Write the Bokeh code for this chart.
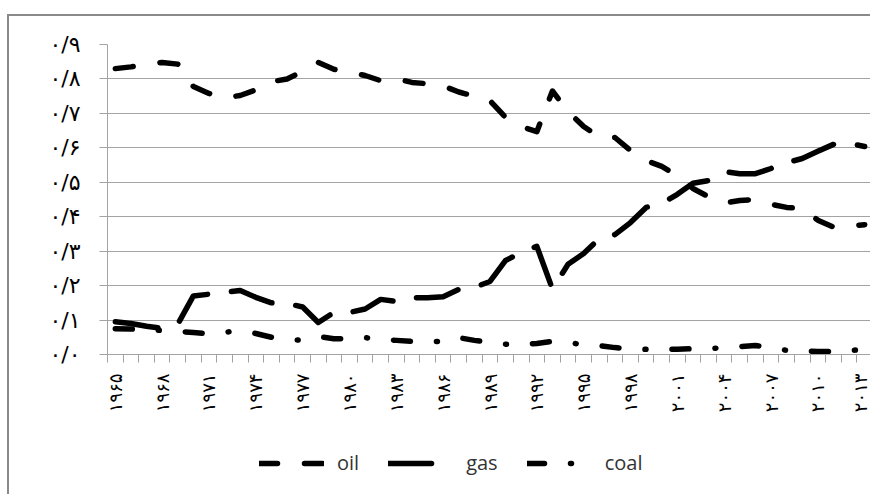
import math
from bokeh.plotting import figure
from bokeh.layouts import column
from bokeh.models import FixedTicker, Legend, LegendItem, Range1d
from bokeh.embed import file_html
from bokeh.resources import INLINE

years = list(range(1965, 2014))

oil = [0.830, 0.835, 0.842, 0.848, 0.843, 0.778, 0.758, 0.745, 0.752, 0.768,
       0.792, 0.800, 0.822, 0.848, 0.828, 0.820, 0.810, 0.795, 0.800, 0.790,
       0.786, 0.780, 0.762, 0.750, 0.737, 0.688, 0.662, 0.647, 0.765, 0.705,
       0.662, 0.632, 0.630, 0.592, 0.563, 0.546, 0.520, 0.482, 0.458, 0.440,
       0.447, 0.450, 0.436, 0.427, 0.424, 0.390, 0.370, 0.372, 0.377]

gas = [0.095, 0.090, 0.082, 0.076, 0.088, 0.170, 0.175, 0.180, 0.186, 0.166,
       0.150, 0.148, 0.138, 0.093, 0.122, 0.122, 0.132, 0.160, 0.154, 0.165,
       0.165, 0.168, 0.189, 0.195, 0.212, 0.273, 0.296, 0.314, 0.190, 0.262,
       0.293, 0.337, 0.348, 0.383, 0.427, 0.438, 0.465, 0.497, 0.505, 0.531,
       0.525, 0.525, 0.540, 0.557, 0.569, 0.590, 0.610, 0.613, 0.604]

coal = [0.075, 0.074, 0.072, 0.070, 0.067, 0.064, 0.060, 0.065, 0.068, 0.061,
        0.050, 0.044, 0.041, 0.052, 0.046, 0.046, 0.049, 0.044, 0.041, 0.038,
        0.038, 0.038, 0.049, 0.041, 0.035, 0.030, 0.030, 0.032, 0.038, 0.033,
        0.030, 0.026, 0.020, 0.017, 0.015, 0.015, 0.015, 0.017, 0.017, 0.020,
        0.023, 0.026, 0.020, 0.012, 0.010, 0.009, 0.009, 0.012, 0.014]

y_ticks = [0.0, 0.1, 0.2, 0.3, 0.4, 0.5, 0.6, 0.7, 0.8, 0.9]
y_tick_labels = ["۰/۰", "۰/۱", "۰/۲", "۰/۳", "۰/۴", "۰/۵", "۰/۶", "۰/۷", "۰/۸", "۰/۹"]

x_label_years = [1965, 1968, 1971, 1974, 1977, 1980, 1983, 1986, 1989, 1992,
                 1995, 1998, 2001, 2004, 2007, 2010, 2013]
x_tick_labels = ["۱۹۶۵", "۱۹۶۸", "۱۹۷۱", "۱۹۷۴", "۱۹۷۷", "۱۹۸۰", "۱۹۸۳", "۱۹۸۶", "۱۹۸۹",
                 "۱۹۹۲", "۱۹۹۵", "۱۹۹۸", "۲۰۰۱", "۲۰۰۴", "۲۰۰۷", "۲۰۱۰", "۲۰۱۳"]

series_names = ["oil", "gas", "coal"]
series_values = [oil, gas, coal]
dashes = ["18 27", "43 24", "17 26 1 26"]

GRID = "#a3a3a3"
BORDER = "2px solid #8a8a8a"

# main chart: canvas at (9, 16), 863 x 424, inside a grey chart border
p = figure(width=863, height=424, output_backend="svg", toolbar_location=None,
           x_range=Range1d(years[0] - 0.5, years[-1] + 0.5),
           y_range=Range1d(0, 0.9),
           min_border_left=98, min_border_right=0, min_border_top=28,
           min_border_bottom=86,
           margin=(14, 0, 0, 7),
           styles={"border-left": BORDER, "border-top": BORDER})
p.outline_line_color = None

p.xaxis.ticker = FixedTicker(ticks=x_label_years,
                             minor_ticks=[y - 0.5 for y in years] + [years[-1] + 0.5])
p.xaxis.major_label_overrides = {y: l for y, l in zip(x_label_years, x_tick_labels)}
p.xaxis.major_tick_out = 0
p.xaxis.major_tick_in = 0
p.xaxis.minor_tick_out = 8
p.xaxis.minor_tick_in = 0
p.xaxis.minor_tick_line_color = GRID
p.xaxis.axis_line_color = GRID
p.xaxis.major_label_orientation = math.pi / 2
p.xaxis.major_label_standoff = 11
p.xaxis.major_label_text_font = "DejaVu Sans"
p.xaxis.major_label_text_font_size = "18px"
p.xaxis.major_label_text_color = "black"

p.yaxis.ticker = FixedTicker(ticks=y_ticks, minor_ticks=[])
p.yaxis.major_label_overrides = {t: l for t, l in zip(y_ticks, y_tick_labels)}
p.yaxis.major_tick_out = 8
p.yaxis.major_tick_in = 0
p.yaxis.major_tick_line_color = GRID
p.yaxis.axis_line_color = GRID
p.yaxis.major_label_standoff = 19
p.yaxis.major_label_text_font = "DejaVu Sans"
p.yaxis.major_label_text_font_size = "22px"
p.yaxis.major_label_text_color = "black"

p.xgrid.visible = False
p.ygrid.ticker = FixedTicker(ticks=y_ticks)
p.ygrid.grid_line_color = GRID
p.ygrid.grid_line_width = 1

common = dict(line_color="black", line_width=5.5, line_cap="round", line_join="round")
for vals, dash in zip(series_values, dashes):
    p.line(years, vals, line_dash=dash, **common)

# legend strip below the chart (same border on the left); its lines carry the
# same series but lie outside its (empty) view, so only the legend keys show.
# The column aligns this strip's frame with the chart's frame.
lp = figure(width=863, height=56, output_backend="svg", toolbar_location=None,
            x_range=Range1d(0, 1), y_range=Range1d(0, 1),
            x_axis_location=None, y_axis_location=None,
            min_border=0, margin=(0, 0, 0, 7),
            styles={"border-left": BORDER})
lp.grid.visible = False
lp.outline_line_color = None

items = []
for name, vals, dash in zip(series_names, series_values, dashes):
    r = lp.line(years, vals, line_dash=dash, **common)
    items.append(LegendItem(label=name, renderers=[r]))

legend = Legend(items=items, orientation="horizontal", location=(152, 18),
                glyph_width=65, glyph_height=20, label_standoff=13, spacing=29,
                padding=0, margin=0,
                label_text_font="Open Sans", label_text_font_size="20px",
                label_text_color="#333333",
                border_line_alpha=0, background_fill_alpha=0)
lp.add_layout(legend)

layout = column(p, lp, spacing=0)
open("out.html", "w").write(file_html(layout, INLINE))
